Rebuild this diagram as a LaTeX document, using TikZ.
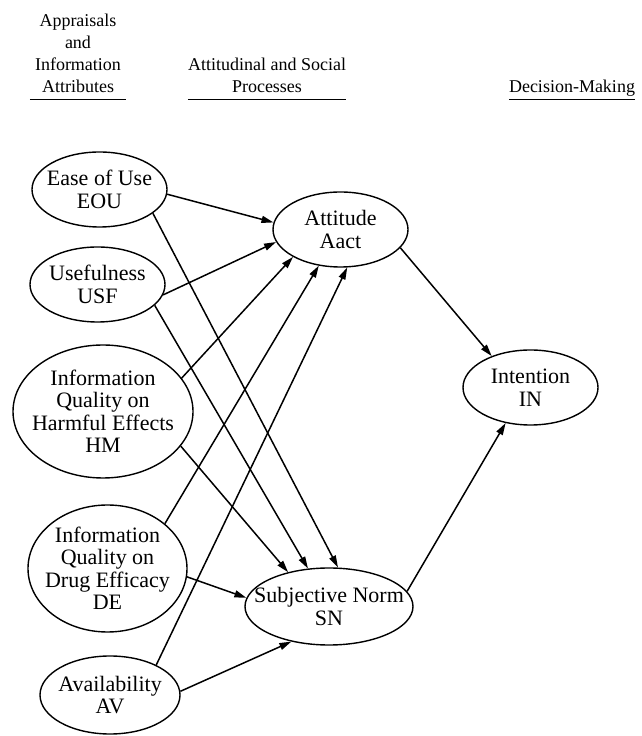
\documentclass[tikz,border=0pt]{standalone}
\usepackage{fontspec}
\setmainfont{Liberation Serif}
\usetikzlibrary{arrows.meta,shapes.geometric}

\begin{document}
\begin{tikzpicture}[x=1pt,y=1pt]
\tikzstyle{ell} = [
	shape=ellipse,
	draw,
	line width=1.4pt, %outline of the ellipses
	inner sep=0pt
];
\tikzstyle{txt} = [align=center, inner sep=0pt, font=\fontsize{22}{22.5}\selectfont];
\tikzstyle{head} = [align=center, anchor=south, text depth=0pt, inner ysep=7pt, font=\fontsize{18}{22}\selectfont];
\tikzstyle{edge} = [-{Triangle[length=12pt,width=7pt]}, line width=1.5pt];
\tikzstyle{rule} = [line width=1pt];

\useasboundingbox (0,0) rectangle (641,736);

% column headings
\node[head, inner xsep=5pt](hdApp) at (78, 636) {Appraisals\\and\\Information\\Attributes};
\node[head, inner xsep=0pt](hdAtt) at (267, 636) {Attitudinal and Social\\Processes};
\node[head, inner xsep=0pt](hdDec) at (572, 636) {Decision-Making};
\draw[rule] (hdApp.south west) -- (hdApp.south east);
\draw[rule] (hdAtt.south west) -- (hdAtt.south east);
\draw[rule] (hdDec.south west) -- (hdDec.south east);

% appraisals and information attributes
\node[ell, minimum width=135pt, minimum height=75pt, label={[txt]center:{Ease of Use\\EOU}}](EOU) at (99.5, 546.5) {};
\node[ell, minimum width=135pt, minimum height=75pt, label={[txt]center:{Usefulness\\USF}}](USF) at (97.5, 451.5) {};
\node[ell, minimum width=180pt, minimum height=133pt, label={[txt]center:{Information\\Quality on\\Harmful Effects\\HM}}](HM) at (103, 324.5) {};
\node[ell, minimum width=159pt, minimum height=127pt, label={[txt]center:{Information\\Quality on\\Drug Efficacy\\DE}}](DE) at (107.5, 167.5) {};
\node[ell, minimum width=140pt, minimum height=78pt, label={[txt]center:{Availability\\AV}}](AV) at (110, 41) {};

% attitudinal and social processes
\node[ell, minimum width=135pt, minimum height=75pt, label={[txt]center:{Attitude\\Aact}}](Aact) at (340.5, 506.5) {};
\node[ell, minimum width=168pt, minimum height=77pt, label={[txt]center:{Subjective Norm\\SN}}](SN) at (329, 129.5) {};

% decision-making
\node[ell, minimum width=135pt, minimum height=75pt, label={[txt]center:{Intention\\IN}}](IN) at (530.5, 348.5) {};

\draw[edge] (EOU.-4.7) -- (Aact.174.6);
\draw[edge] (USF.-9) -- (Aact.191);
\draw[edge] (HM.23) -- (Aact.210.4);
\draw[edge] (DE.38.4) -- (Aact.239);
\draw[edge] (AV.33) -- (Aact.280);

\draw[edge] (EOU.-24) -- (SN.77);
\draw[edge] (USF.-20) -- (SN.119);
\draw[edge] (HM.-24.5) -- (SN.140);
\draw[edge] (DE.-6) -- (SN.174);
\draw[edge] (AV.3) -- (SN.223);

\draw[edge] (Aact.343) -- (IN.141.6);
\draw[edge] (SN.11.5) -- (IN.235.7);

\end{tikzpicture}
\end{document}
